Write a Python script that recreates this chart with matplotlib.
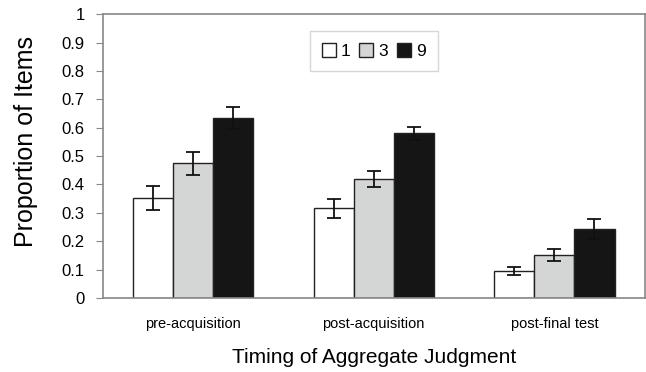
import matplotlib.pyplot as plt
import numpy as np

plt.rcParams["font.family"] = ["Liberation Sans", "DejaVu Sans"]

groups = ["pre-acquisition", "post-acquisition", "post-final test"]
series = ["1", "3", "9"]
means = {
    "1": [0.351, 0.316, 0.096],
    "3": [0.474, 0.419, 0.151],
    "9": [0.634, 0.580, 0.242],
}
errs = {
    "1": [0.042, 0.034, 0.014],
    "3": [0.040, 0.029, 0.020],
    "9": [0.040, 0.024, 0.035],
}
colors = {"1": "#ffffff", "3": "#d4d6d5", "9": "#151515"}

fig = plt.figure(figsize=(6.46, 3.72), dpi=100)
ax = fig.add_axes([0.159, 0.199, 0.839, 0.763])

x = np.arange(len(groups)) + 0.5
width = 0.222
for i, s in enumerate(series):
    ax.bar(x + (i - 1) * width, means[s], width, color=colors[s],
           edgecolor="#222222", linewidth=1.0, label=s, zorder=2)
    ax.errorbar(x + (i - 1) * width, means[s], yerr=errs[s], fmt="none",
                ecolor="#111111", elinewidth=1.3, capsize=5, capthick=1.3, zorder=3)

ax.set_xlim(0, 3)
ax.set_ylim(0, 1)
ax.set_xticks(x)
ax.set_xticklabels(groups, fontsize=10.5)
ax.tick_params(axis="x", length=0, pad=14)
ax.set_yticks(np.arange(0, 1.01, 0.1))
ax.set_yticklabels(["0"] + [f"{v:.1f}" for v in np.arange(0.1, 0.95, 0.1)] + ["1"],
                   fontsize=12)
ax.tick_params(axis="y", length=5, color="#888888", pad=8)

for sp in ax.spines.values():
    sp.set_color("#888888")
    sp.set_linewidth(1.2)

ax.set_ylabel("Proportion of Items", fontsize=18)
ax.yaxis.set_label_coords(-0.12, 0.55)
ax.set_xlabel("Timing of Aggregate Judgment", fontsize=15, labelpad=12)

leg = ax.legend(loc="upper center", bbox_to_anchor=(0.5, 0.97), ncol=3,
                fontsize=12.5, handlelength=0.8, handleheight=0.8,
                handletextpad=0.3, columnspacing=0.5, fancybox=False,
                borderpad=0.7)
leg.get_frame().set_edgecolor("#cccccc")
leg.get_frame().set_linewidth(1.0)

fig.savefig("out.png", dpi=100)
